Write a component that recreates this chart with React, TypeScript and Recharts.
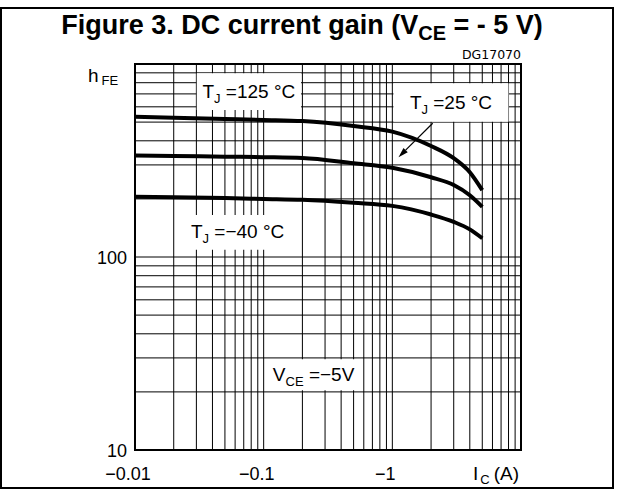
import React from 'react';
import { LineChart, Line, XAxis, YAxis, CartesianGrid, ReferenceArea, ReferenceLine } from 'recharts';

// Collector current magnitude (A) – axis is labelled with negative values
const currents = [0.01, 0.02, 0.05, 0.1, 0.2, 0.5, 1, 2, 3, 4, 5];
const hfe125 = [533, 527, 519, 513, 506, 477, 446, 376, 325, 275, 222];
const hfe25 = [336, 334, 331, 329, 326, 306, 290, 259, 236, 209, 182];
const hfeMinus40 = [205, 204, 202, 200, 198, 191, 184, 166, 152, 139, 125];

const xGridValues = [
  0.01, 0.02, 0.03, 0.04, 0.05, 0.06, 0.07, 0.08, 0.09,
  0.1, 0.2, 0.3, 0.4, 0.5, 0.6, 0.7, 0.8, 0.9,
  1, 2, 3, 4, 5, 6, 7, 8, 9, 10,
];
const yGridValues = [
  10, 20, 30, 40, 50, 60, 70, 80, 90,
  100, 200, 300, 400, 500, 600, 700, 800, 900, 1000,
];
const xTickValues = [0.01, 0.1, 1];
const xTickLabels = ['\u22120.01', '\u22120.1', '\u22121'];
const yTickValues = [10, 100];
const yTickLabels = ['10', '100'];

// annotation boxes (data coordinates) and their texts
const boxRanges = [
  { x1: 0.0302, x2: 0.195, y1: 578, y2: 895 },
  { x1: 1.02, x2: 8.0, y1: 502, y2: 794 },
  { x1: 0.0205, x2: 0.192, y1: 109, y2: 165 },
  { x1: 0.103, x2: 0.58, y1: 20.4, y2: 29.5 },
];
const boxTexts = [
  ['T', 'J', ' =125 \u00B0C'],
  ['T', 'J', ' =25 \u00B0C'],
  ['T', 'J', ' =\u221240 \u00B0C'],
  ['V', 'CE', ' =\u22125V'],
];
const arrowSegment = [
  { x: 2.06, y: 493 },
  { x: 1.117, y: 329 },
];

const chartData = currents.map((ic, i) => ({
  ic,
  h125: hfe125[i],
  h25: hfe25[i],
  hm40: hfeMinus40[i],
}));

const FONT = '"Liberation Sans", Arial, sans-serif';

const findLabel = (v: number, values: number[], labels: string[]) => {
  const i = values.findIndex((t) => Math.abs(t - v) < 1e-9);
  return i >= 0 ? labels[i] : null;
};

const XTick = (props: any) => {
  const { x, y, payload } = props;
  const label = findLabel(payload.value, xTickValues, xTickLabels);
  if (!label) return <g />;
  return (
    <text x={x - 7} y={y + 30} textAnchor="middle" fontFamily={FONT} fontSize={18} fill="#000">
      {label}
    </text>
  );
};

const YTick = (props: any) => {
  const { x, y, payload } = props;
  const label = findLabel(payload.value, yTickValues, yTickLabels);
  if (!label) return <g />;
  return (
    <text x={x - 8} y={y + 6.5} textAnchor="end" fontFamily={FONT} fontSize={18} fill="#000">
      {label}
    </text>
  );
};

const makeBoxLabel = (parts: string[]) => (props: any) => {
  const vb = props.viewBox || {};
  const cx = vb.x + vb.width / 2;
  const cy = vb.y + vb.height / 2;
  return (
    <text x={cx} y={cy + 6} textAnchor="middle" fontFamily={FONT} fontSize={19} fill="#000">
      <tspan>{parts[0]}</tspan>
      <tspan fontSize={13} dy={5}>{parts[1]}</tspan>
      <tspan dy={-5}>{parts[2]}</tspan>
    </text>
  );
};

const ArrowShape = (props: any) => {
  const { x1, y1, x2, y2 } = props;
  const ang = Math.atan2(y2 - y1, x2 - x1);
  const len = 10;
  const hw = 3;
  const bx = x2 - len * Math.cos(ang);
  const by = y2 - len * Math.sin(ang);
  const px = -Math.sin(ang) * hw;
  const py = Math.cos(ang) * hw;
  return (
    <g>
      <line x1={x1} y1={y1} x2={bx} y2={by} stroke="#000" strokeWidth={1.2} />
      <polygon points={`${x2},${y2} ${bx + px},${by + py} ${bx - px},${by - py}`} fill="#000" />
    </g>
  );
};

const YAxisTitle = (props: any) => {
  const vb = props.viewBox || {};
  return (
    <text x={vb.x + vb.width - 47} y={vb.y + 18} fontFamily={FONT} fontSize={19} fill="#000">
      <tspan>h</tspan>
      <tspan fontSize={13} dy={3} dx={3}>FE</tspan>
    </text>
  );
};

const XAxisTitle = (props: any) => {
  const vb = props.viewBox || {};
  return (
    <text x={vb.x + vb.width - 48} y={vb.y + 30} fontFamily={FONT} fontSize={19} fill="#000">
      <tspan>I</tspan>
      <tspan fontSize={13} dy={4} dx={2}>C</tspan>
      <tspan dy={-4} dx={4}>(A)</tspan>
    </text>
  );
};

export default function App() {
  return (
    <div style={{ position: 'absolute', left: 0, top: 0, width: 617, height: 496, background: '#fff' }}>
      <div
        style={{
          position: 'absolute',
          left: 0,
          top: 7,
          width: 614,
          height: 482,
          border: '2px solid #000',
          boxSizing: 'border-box',
        }}
      />
      <div
        style={{
          position: 'absolute',
          left: 0,
          top: 10,
          width: 604,
          textAlign: 'center',
          fontFamily: FONT,
          fontWeight: 'bold',
          fontSize: 27,
          lineHeight: '30px',
          whiteSpace: 'nowrap',
        }}
      >
        Figure 3. DC current gain (V
        <span style={{ fontSize: 20, position: 'relative', top: 6 }}>CE</span> = - 5 V)
      </div>
      <div
        style={{
          position: 'absolute',
          left: 0,
          top: 48,
          width: 521,
          textAlign: 'right',
          fontFamily: '"DejaVu Sans", sans-serif',
          fontSize: 12.5,
          lineHeight: '13px',
        }}
      >
        DG17070
      </div>
      <div style={{ position: 'absolute', left: 0, top: 0 }}>
        <LineChart width={617} height={496} data={chartData} margin={{ top: 64, right: 96, bottom: 0, left: 0 }}>
          <CartesianGrid stroke="#000" strokeWidth={1} fill="none" />
          <XAxis
            dataKey="ic"
            type="number"
            scale="log"
            domain={[0.01, 10]}
            ticks={xGridValues}
            interval={0}
            allowDataOverflow
            tick={<XTick />}
            tickLine={false}
            axisLine={false}
            tickSize={0}
            tickMargin={0}
            height={46}
            label={<XAxisTitle />}
          />
          <YAxis
            type="number"
            scale="log"
            domain={[10, 1000]}
            ticks={yGridValues}
            interval={0}
            allowDataOverflow
            tick={<YTick />}
            tickLine={false}
            axisLine={false}
            tickSize={0}
            tickMargin={0}
            width={135}
            label={<YAxisTitle />}
          />
          {boxRanges.map((b, i) => (
            <ReferenceArea
              key={i}
              x1={b.x1}
              x2={b.x2}
              y1={b.y1}
              y2={b.y2}
              fill="#fff"
              fillOpacity={1}
              stroke="none"
              label={makeBoxLabel(boxTexts[i])}
            />
          ))}
          <ReferenceArea x1={0.01} x2={10} y1={10} y2={1000} fill="none" stroke="#000" strokeWidth={2} ifOverflow="visible" />
          <Line dataKey="h125" type="monotone" stroke="#000" strokeWidth={4} dot={false} isAnimationActive={false} />
          <Line dataKey="h25" type="monotone" stroke="#000" strokeWidth={4} dot={false} isAnimationActive={false} />
          <Line dataKey="hm40" type="monotone" stroke="#000" strokeWidth={4} dot={false} isAnimationActive={false} />
          <ReferenceLine segment={arrowSegment} shape={ArrowShape} ifOverflow="visible" />
        </LineChart>
      </div>
    </div>
  );
}
